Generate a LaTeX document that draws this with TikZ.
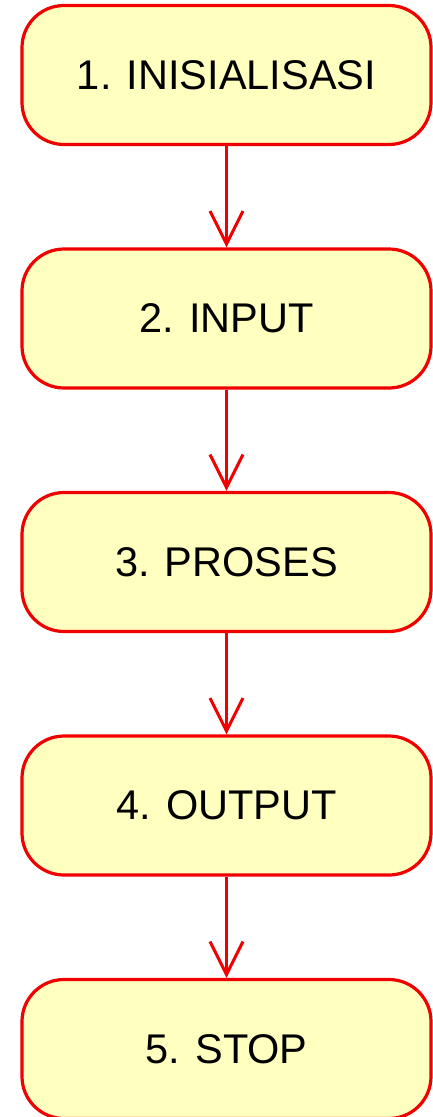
\documentclass[tikz,border=0pt]{standalone}
\usepackage{fontspec}
\setmainfont{Liberation Sans}
\usetikzlibrary{arrows.meta, positioning}
\definecolor{stepfill}{HTML}{FFFFC0}
\definecolor{steprim}{HTML}{F00000}

\begin{document}
\begin{tikzpicture}[node distance=243.5pt,>={Straight Barb[length=33pt,width=33pt]}]
  \tikzstyle{activity}=[draw=steprim,fill=stepfill,line width=3.2pt,
    rounded corners=42pt,minimum width=409pt,minimum height=139pt,
    font=\fontsize{41.5}{49}\selectfont]
  \useasboundingbox (0,0) rectangle (433pt,-1117pt);

  \node[activity] (init)                   at (226.5pt,-75pt) {1. INISIALISASI};
  \node[activity] (input)  [below of=init]  {2. INPUT};
  \node[activity] (proses) [below of=input] {3. PROSES};
  \node[activity] (output) [below of=proses] {4. OUTPUT};
  \node[activity] (stop)   [below of=output] {5. STOP};

  \path[->,draw=steprim,line width=3pt]
  (init)   edge (input)
  (input)  edge (proses)
  (proses) edge (output)
  (output) edge (stop)
  ;
\end{tikzpicture}
\end{document}
